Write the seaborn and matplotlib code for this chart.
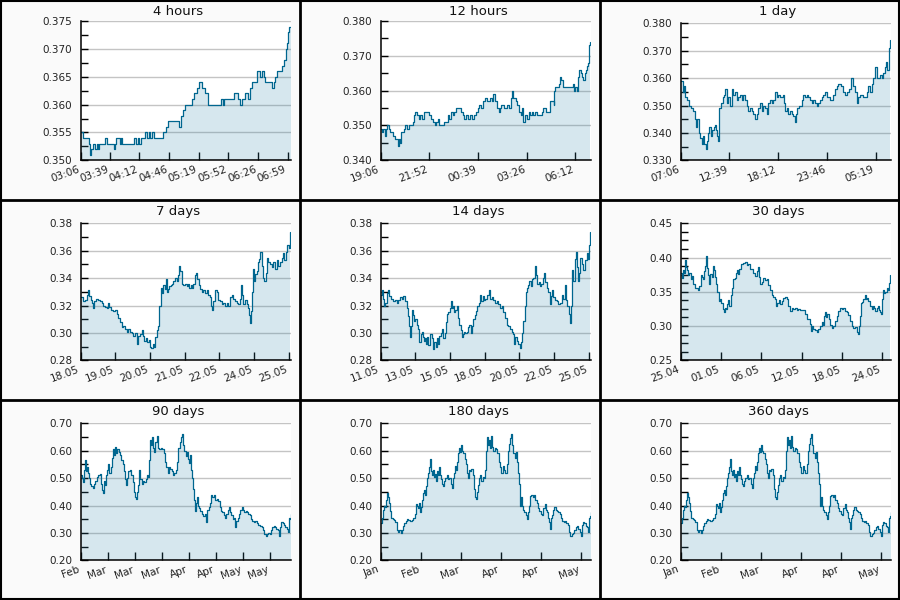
import matplotlib
matplotlib.use("Agg")
import matplotlib.pyplot as plt
from matplotlib.lines import Line2D
from matplotlib.ticker import FormatStrFormatter, MultipleLocator
import seaborn as sns

# ---------------- data ----------------
titles = ["4 hours", "12 hours", "1 day", "7 days", "14 days", "30 days",
          "90 days", "180 days", "360 days"]

# 4 hours (minutes since 03:06)
t_4h = [0, 3, 9, 10, 11, 12, 14, 16, 18, 19, 21, 27, 30, 37, 39, 40, 44, 45, 47, 60,
        62, 64, 66, 68, 73, 75, 77, 78, 80, 83, 93, 96, 98, 111, 113, 115, 117, 125, 128, 131,
        133, 137, 140, 143, 158, 160, 162, 173, 177, 180, 182, 185, 189, 191, 193, 199, 202, 204, 206, 208,
        216, 218, 219, 221, 227, 229, 231, 232, 234, 235, 237]
v_4h = [0.355, 0.354, 0.353, 0.352, 0.351, 0.352, 0.353, 0.352, 0.353, 0.352, 0.353, 0.354, 0.353, 0.352, 0.353, 0.354, 0.353, 0.354, 0.353, 0.354,
        0.353, 0.354, 0.353, 0.354, 0.355, 0.354, 0.355, 0.354, 0.355, 0.354, 0.355, 0.356, 0.357, 0.356, 0.358, 0.359, 0.360, 0.361, 0.362, 0.363,
        0.364, 0.363, 0.362, 0.360, 0.361, 0.360, 0.361, 0.362, 0.361, 0.360, 0.361, 0.362, 0.361, 0.363, 0.364, 0.366, 0.365, 0.366, 0.365, 0.364,
        0.363, 0.364, 0.365, 0.366, 0.367, 0.368, 0.370, 0.371, 0.373, 0.374, 0.374]
ticks_4h = [0, 33, 66, 100, 133, 166, 200, 233]
labels_4h = ["03:06", "03:39", "04:12", "04:46", "05:19", "05:52", "06:26", "06:59"]

# 12 hours (minutes since 19:06)
t_12h = [0, 5, 9, 14, 18, 23, 27, 32, 41, 48, 55, 58, 62, 66, 71, 75, 80, 84, 91, 96,
         103, 109, 114, 117, 123, 130, 135, 141, 148, 157, 164, 171, 178, 184, 189, 195, 201, 209, 217, 223,
         230, 235, 239, 246, 251, 258, 267, 274, 280, 285, 292, 299, 306, 312, 319, 326, 331, 337, 344, 351,
         358, 365, 372, 379, 383, 390, 397, 404, 408, 413, 420, 429, 433, 440, 446, 449, 454, 461, 467, 473,
         479, 483, 488, 493, 499, 506, 511, 518, 522, 529, 536, 545, 552, 556, 565, 575, 579, 585, 591, 594,
         597, 602, 609, 613, 618, 622, 629, 636, 643, 650, 657, 661, 666, 670, 675, 679, 684, 689, 693, 698,
         702, 707, 710, 713, 716]
v_12h = [0.349, 0.348, 0.349, 0.347, 0.349, 0.350, 0.349, 0.348, 0.347, 0.346, 0.346, 0.344, 0.346, 0.345, 0.348, 0.348, 0.349, 0.350, 0.349, 0.350,
         0.350, 0.351, 0.353, 0.354, 0.353, 0.352, 0.353, 0.352, 0.354, 0.354, 0.353, 0.352, 0.351, 0.350, 0.351, 0.352, 0.350, 0.350, 0.351, 0.351,
         0.353, 0.352, 0.354, 0.353, 0.354, 0.355, 0.355, 0.354, 0.353, 0.352, 0.353, 0.352, 0.353, 0.352, 0.353, 0.354, 0.355, 0.356, 0.355, 0.357,
         0.358, 0.357, 0.358, 0.357, 0.359, 0.357, 0.355, 0.354, 0.355, 0.356, 0.355, 0.355, 0.356, 0.355, 0.358, 0.360, 0.358, 0.357, 0.356, 0.354,
         0.353, 0.355, 0.351, 0.353, 0.352, 0.354, 0.353, 0.354, 0.353, 0.354, 0.353, 0.353, 0.354, 0.355, 0.354, 0.354, 0.357, 0.357, 0.356, 0.360,
         0.361, 0.361, 0.362, 0.364, 0.363, 0.361, 0.361, 0.361, 0.361, 0.361, 0.362, 0.360, 0.361, 0.360, 0.364, 0.366, 0.365, 0.364, 0.363, 0.365,
         0.366, 0.367, 0.368, 0.373, 0.374]
ticks_12h = [0, 166, 333, 500, 666]
labels_12h = ["19:06", "21:52", "00:39", "03:26", "06:12"]

# 1 day (minutes since 07:06)
t_1d = [0, 14, 23, 32, 41, 55, 68, 82, 96, 105, 114, 123, 132, 144, 153, 162, 173, 180, 189, 196,
        205, 217, 228, 235, 242, 251, 258, 265, 274, 287, 296, 306, 315, 326, 337, 349, 360, 372, 383, 394,
        406, 417, 429, 440, 451, 463, 474, 486, 497, 508, 520, 531, 543, 554, 565, 577, 588, 600, 611, 622,
        634, 645, 657, 668, 679, 698, 707, 716, 725, 736, 748, 759, 771, 782, 789, 798, 812, 828, 839, 850,
        862, 873, 885, 896, 907, 919, 930, 942, 953, 964, 976, 987, 999, 1021, 1044, 1056, 1067, 1078, 1094, 1108,
        1124, 1135, 1154, 1163, 1177, 1192, 1204, 1215, 1227, 1249, 1272, 1284, 1295, 1306, 1318, 1329, 1341, 1363, 1375, 1386,
        1398, 1405, 1414, 1423, 1427, 1434]
v_1d = [0.359, 0.355, 0.357, 0.353, 0.352, 0.350, 0.349, 0.348, 0.345, 0.342, 0.345, 0.340, 0.338, 0.336, 0.339, 0.336, 0.334, 0.337, 0.340, 0.342,
        0.339, 0.341, 0.342, 0.343, 0.341, 0.339, 0.337, 0.349, 0.351, 0.353, 0.354, 0.356, 0.351, 0.353, 0.350, 0.356, 0.354, 0.355, 0.352, 0.353,
        0.354, 0.352, 0.354, 0.352, 0.350, 0.348, 0.349, 0.348, 0.347, 0.345, 0.347, 0.349, 0.351, 0.348, 0.350, 0.349, 0.347, 0.351, 0.352, 0.351,
        0.352, 0.355, 0.353, 0.354, 0.353, 0.354, 0.351, 0.348, 0.349, 0.347, 0.348, 0.347, 0.346, 0.344, 0.347, 0.349, 0.350, 0.352, 0.354, 0.353,
        0.354, 0.353, 0.352, 0.351, 0.352, 0.351, 0.350, 0.351, 0.352, 0.353, 0.354, 0.355, 0.353, 0.352, 0.354, 0.356, 0.357, 0.358, 0.357, 0.355,
        0.354, 0.355, 0.356, 0.360, 0.357, 0.355, 0.351, 0.353, 0.354, 0.353, 0.355, 0.357, 0.355, 0.358, 0.360, 0.364, 0.360, 0.361, 0.360, 0.362,
        0.364, 0.366, 0.363, 0.366, 0.371, 0.374]
ticks_1d = [0, 333, 666, 1000, 1333]
labels_1d = ["07:06", "12:39", "18:12", "23:46", "05:19"]

# 7 days (hours since 18.05 07:06)
t_7d = [0, 1.6, 3.5, 4.8, 5.6, 6.9, 8.0, 9.1, 10.1, 10.9, 12.3, 14.1, 15.5, 16.8, 18.1, 19.5, 20.8, 22.1, 22.9, 24.3,
        26.1, 27.5, 28.8, 30.1, 31.5, 32.8, 34.1, 35.5, 36.8, 38.1, 39.5, 40.8, 42.1, 43.5, 44.8, 46.1, 47.5, 48.8, 49.6, 50.7,
        52.0, 53.1, 54.4, 55.5, 56.3, 57.6, 58.7, 59.7, 60.8, 61.9, 62.9, 64.0, 64.8, 66.1, 67.2, 68.0, 68.8, 69.9, 70.9, 72.0,
        73.3, 74.1, 75.5, 76.8, 77.6, 78.7, 79.5, 80.8, 82.1, 83.5, 84.8, 86.1, 86.9, 88.0, 89.1, 90.1, 91.5, 92.3, 93.3, 94.4,
        95.5, 96.8, 98.1, 99.5, 100.8, 102.1, 103.5, 104.3, 105.1, 106.1, 107.5, 108.8, 110.1, 111.5, 112.8, 114.1, 115.5, 116.8, 118.1, 119.5,
        120.8, 122.1, 123.5, 124.8, 126.1, 127.5, 128.3, 129.1, 130.1, 131.5, 132.8, 133.6, 134.4, 135.5, 136.3, 137.1, 137.6, 138.7, 139.7, 140.8,
        141.9, 142.9, 143.7, 144.8, 146.1, 146.9, 148.0, 148.8, 150.1, 151.5, 152.8, 154.1, 155.5, 156.8, 158.1, 159.5, 160.8, 162.1, 162.9, 164.3,
        165.3, 166.4, 167.2]
v_7d = [0.326, 0.323, 0.324, 0.328, 0.331, 0.327, 0.324, 0.322, 0.318, 0.323, 0.325, 0.324, 0.323, 0.322, 0.320, 0.319, 0.318, 0.322, 0.319, 0.317,
        0.316, 0.317, 0.314, 0.311, 0.308, 0.304, 0.305, 0.303, 0.301, 0.303, 0.301, 0.300, 0.298, 0.300, 0.292, 0.298, 0.299, 0.302, 0.298, 0.294,
        0.296, 0.293, 0.295, 0.290, 0.289, 0.292, 0.290, 0.297, 0.302, 0.305, 0.320, 0.333, 0.329, 0.335, 0.332, 0.339, 0.330, 0.332, 0.334, 0.335,
        0.336, 0.338, 0.340, 0.338, 0.342, 0.349, 0.345, 0.336, 0.335, 0.336, 0.334, 0.336, 0.333, 0.335, 0.333, 0.336, 0.342, 0.344, 0.339, 0.335,
        0.332, 0.330, 0.331, 0.329, 0.331, 0.328, 0.326, 0.320, 0.317, 0.323, 0.331, 0.330, 0.324, 0.323, 0.321, 0.322, 0.320, 0.322, 0.320, 0.326,
        0.328, 0.325, 0.323, 0.322, 0.321, 0.325, 0.335, 0.328, 0.321, 0.324, 0.321, 0.318, 0.313, 0.307, 0.316, 0.330, 0.347, 0.338, 0.343, 0.345,
        0.352, 0.354, 0.359, 0.349, 0.340, 0.338, 0.344, 0.355, 0.352, 0.350, 0.348, 0.352, 0.347, 0.353, 0.349, 0.352, 0.355, 0.358, 0.353, 0.359,
        0.364, 0.362, 0.374]
ticks_7d = [0, 27.7, 55.5, 83.2, 110.9, 138.7, 166.4]
labels_7d = ["18.05", "19.05", "20.05", "21.05", "22.05", "24.05", "25.05"]

# 14 days (hours since 11.05 07:06)
t_14d = [0, 1.6, 3.2, 5.3, 7.5, 9.6, 11.7, 13.9, 16.0, 19.2, 22.9, 25.6, 28.3, 30.9, 33.6, 36.3, 38.9, 41.6, 42.7, 44.3,
         45.9, 46.9, 48.5, 50.1, 52.3, 53.9, 55.5, 57.6, 59.2, 60.8, 61.9, 64.0, 65.6, 67.2, 69.3, 70.9, 72.5, 74.7, 76.3, 78.9,
         81.6, 84.3, 85.9, 88.0, 89.6, 91.7, 93.9, 96.0, 98.7, 100.3, 102.9, 104.5, 106.1, 108.3, 110.9, 112.0, 114.1, 116.3, 117.9, 119.5,
         121.6, 123.7, 125.9, 128.0, 129.6, 131.2, 133.3, 135.5, 137.6, 139.7, 141.9, 144.0, 146.1, 148.3, 150.4, 152.5, 154.7, 156.8, 158.9, 161.1,
         163.2, 165.3, 167.5, 169.6, 172.8, 174.9, 177.6, 180.3, 182.9, 185.6, 188.3, 190.9, 193.6, 196.3, 198.9, 201.6, 204.3, 206.9, 209.6, 212.3,
         213.9, 215.5, 217.6, 220.3, 222.9, 225.1, 226.7, 228.3, 230.4, 232.0, 233.6, 235.7, 237.9, 240.0, 242.1, 244.3, 246.4, 248.5, 250.7, 252.8,
         254.9, 257.1, 259.2, 260.8, 262.9, 265.6, 268.3, 270.4, 272.0, 274.1, 276.3, 278.9, 281.6, 284.3, 286.9, 289.6, 292.3, 294.9, 296.5, 298.7,
         300.8, 302.9, 305.1, 306.7, 308.3, 310.4, 312.0, 313.6, 315.2, 316.8, 318.9, 321.6, 324.3, 326.9, 329.6, 331.7, 333.3, 334.9]
v_14d = [0.328, 0.331, 0.325, 0.320, 0.322, 0.329, 0.331, 0.327, 0.325, 0.323, 0.324, 0.322, 0.324, 0.326, 0.325, 0.327, 0.323, 0.321, 0.318, 0.312,
         0.305, 0.297, 0.305, 0.317, 0.313, 0.309, 0.310, 0.306, 0.303, 0.299, 0.293, 0.299, 0.301, 0.297, 0.294, 0.296, 0.292, 0.297, 0.291, 0.299,
         0.296, 0.288, 0.293, 0.290, 0.296, 0.292, 0.298, 0.300, 0.303, 0.296, 0.300, 0.308, 0.314, 0.315, 0.318, 0.323, 0.318, 0.320, 0.315, 0.317,
         0.320, 0.311, 0.306, 0.302, 0.297, 0.299, 0.301, 0.300, 0.301, 0.304, 0.306, 0.300, 0.305, 0.310, 0.313, 0.316, 0.320, 0.322, 0.328, 0.323,
         0.327, 0.324, 0.325, 0.328, 0.331, 0.325, 0.326, 0.324, 0.322, 0.323, 0.321, 0.318, 0.320, 0.315, 0.311, 0.306, 0.305, 0.303, 0.301, 0.299,
         0.292, 0.297, 0.294, 0.292, 0.289, 0.293, 0.300, 0.309, 0.320, 0.330, 0.333, 0.335, 0.338, 0.334, 0.339, 0.340, 0.349, 0.342, 0.336, 0.337,
         0.334, 0.336, 0.340, 0.344, 0.337, 0.333, 0.330, 0.321, 0.327, 0.331, 0.326, 0.324, 0.323, 0.321, 0.322, 0.328, 0.325, 0.335, 0.324, 0.320,
         0.314, 0.307, 0.320, 0.346, 0.338, 0.354, 0.359, 0.348, 0.338, 0.344, 0.355, 0.350, 0.346, 0.353, 0.358, 0.354, 0.364, 0.374]
ticks_14d = [0, 55.5, 110.9, 166.4, 221.9, 277.3, 332.8]
labels_14d = ["11.05", "13.05", "15.05", "18.05", "20.05", "22.05", "25.05"]

# 30 days (hours since 25.04 07:06)
t_30d = [0, 3.4, 6.9, 11.4, 14.9, 18.3, 22.9, 26.3, 29.7, 34.3, 38.9, 43.4, 49.1, 54.9, 60.6, 64.0, 68.6, 72.0, 75.4, 80.0,
         83.4, 86.9, 90.3, 94.9, 98.3, 101.7, 106.3, 110.9, 114.3, 117.7, 121.1, 125.7, 130.3, 134.9, 139.4, 144.0, 147.4, 152.0, 155.4, 158.9,
         162.3, 166.9, 171.4, 176.0, 180.6, 185.1, 189.7, 194.3, 197.7, 201.2, 205.7, 212.6, 220.6, 226.3, 232.0, 237.7, 243.5, 249.2, 254.9, 260.6,
         265.2, 268.6, 273.2, 277.7, 283.5, 289.2, 294.9, 300.6, 306.3, 312.0, 317.8, 323.5, 326.9, 331.5, 336.0, 340.6, 346.3, 352.0, 357.8, 363.5,
         369.2, 374.9, 380.6, 386.3, 392.0, 397.8, 403.5, 409.2, 414.9, 420.6, 426.3, 432.0, 437.8, 443.5, 446.9, 451.5, 454.9, 460.6, 466.3, 472.1,
         477.8, 483.5, 486.9, 491.5, 494.9, 498.3, 502.9, 507.4, 512.0, 517.8, 523.5, 529.2, 534.9, 540.6, 546.3, 552.0, 557.8, 563.5, 569.2, 574.9,
         580.6, 586.3, 592.0, 597.8, 603.5, 606.9, 611.5, 614.9, 618.4, 622.9, 626.4, 630.9, 635.5, 640.1, 643.5, 649.2, 654.9, 658.4, 662.9, 667.5,
         672.1, 675.5, 678.9, 683.5, 686.9, 690.4, 693.8, 697.2, 701.8, 706.4, 711.0, 714.4, 717.8]
v_30d = [0.378, 0.370, 0.382, 0.378, 0.396, 0.386, 0.382, 0.374, 0.378, 0.369, 0.373, 0.362, 0.356, 0.355, 0.353, 0.358, 0.375, 0.372, 0.368, 0.380,
         0.388, 0.402, 0.385, 0.375, 0.362, 0.376, 0.372, 0.387, 0.382, 0.371, 0.362, 0.350, 0.337, 0.340, 0.334, 0.325, 0.321, 0.327, 0.325, 0.332,
         0.338, 0.330, 0.345, 0.355, 0.369, 0.370, 0.377, 0.382, 0.376, 0.384, 0.390, 0.392, 0.393, 0.389, 0.390, 0.383, 0.384, 0.378, 0.373, 0.381,
         0.386, 0.371, 0.362, 0.365, 0.370, 0.367, 0.368, 0.360, 0.352, 0.345, 0.342, 0.339, 0.330, 0.333, 0.338, 0.332, 0.337, 0.341, 0.343, 0.339,
         0.330, 0.322, 0.326, 0.325, 0.327, 0.323, 0.325, 0.323, 0.324, 0.324, 0.318, 0.310, 0.311, 0.303, 0.293, 0.300, 0.296, 0.294, 0.291, 0.295,
         0.300, 0.306, 0.302, 0.315, 0.320, 0.313, 0.318, 0.310, 0.302, 0.297, 0.300, 0.307, 0.315, 0.322, 0.327, 0.325, 0.326, 0.322, 0.320, 0.316,
         0.307, 0.300, 0.297, 0.299, 0.291, 0.289, 0.300, 0.315, 0.333, 0.335, 0.339, 0.345, 0.339, 0.341, 0.336, 0.330, 0.325, 0.330, 0.326, 0.322,
         0.326, 0.330, 0.323, 0.320, 0.318, 0.340, 0.352, 0.348, 0.350, 0.355, 0.353, 0.363, 0.374]
ticks_30d = [0, 138.2, 276.5, 414.7, 553.0, 691.2]
labels_30d = ["25.04", "01.05", "06.05", "12.05", "18.05", "24.05"]

# 90 days (days since start)
t_90d = [0, 0.4, 0.9, 1.3, 1.7, 2.1, 2.6, 3.0, 3.4, 4.0, 4.6, 5.1, 5.7, 6.3, 6.9, 7.6, 8.3, 8.7, 9.1, 9.6,
         10.0, 10.4, 10.9, 11.4, 11.9, 12.3, 12.9, 13.4, 14.0, 14.4, 14.9, 15.3, 15.7, 16.3, 16.9, 17.4, 18.0, 18.6, 19.1, 19.6,
         20.0, 20.4, 21.1, 21.7, 22.3, 22.7, 23.1, 23.6, 24.0, 24.4, 24.9, 25.1, 25.6, 26.1, 26.7, 27.3, 27.9, 28.4, 28.9, 29.3,
         29.7, 30.1, 30.6, 31.0, 31.4, 32.0, 32.6, 33.0, 33.6, 34.3, 35.0, 35.6, 36.1, 36.7, 37.3, 37.9, 38.4, 39.0, 39.6, 40.1,
         40.7, 41.3, 41.9, 42.4, 43.0, 43.6, 44.0, 44.4, 45.0, 45.4, 45.9, 46.3, 46.9, 47.3, 47.7, 48.1, 48.6, 48.9, 49.3, 49.7,
         50.1, 50.7, 51.3, 51.9, 52.6, 53.3, 53.7, 54.3, 54.9, 55.4, 55.9, 56.4, 57.0, 57.6, 58.3, 59.0, 59.6, 60.1, 60.7, 61.3,
         61.9, 62.4, 63.0, 63.4, 64.0, 64.6, 65.1, 65.7, 66.1, 66.7, 67.3, 67.9, 68.4, 69.0, 69.6, 70.1, 70.7, 71.3, 71.9, 72.4,
         73.0, 73.6, 74.1, 74.7, 75.4, 76.1, 76.9, 77.6, 78.1, 78.7, 79.3, 79.9, 80.4, 81.0, 81.6, 82.1, 82.7, 83.3, 83.9, 84.4,
         85.0, 85.6, 86.0, 86.6, 87.1, 87.7, 88.3, 88.7, 89.1, 89.6, 90.0]
v_90d = [0.510, 0.500, 0.485, 0.530, 0.565, 0.525, 0.540, 0.520, 0.500, 0.480, 0.470, 0.465, 0.478, 0.490, 0.505, 0.510, 0.515, 0.480, 0.455, 0.445,
         0.490, 0.475, 0.510, 0.530, 0.550, 0.520, 0.540, 0.575, 0.605, 0.585, 0.615, 0.590, 0.605, 0.595, 0.585, 0.565, 0.550, 0.525, 0.495, 0.475,
         0.500, 0.525, 0.530, 0.510, 0.485, 0.450, 0.430, 0.425, 0.450, 0.475, 0.505, 0.530, 0.495, 0.480, 0.490, 0.485, 0.495, 0.510, 0.505, 0.565,
         0.640, 0.620, 0.650, 0.610, 0.595, 0.630, 0.655, 0.610, 0.605, 0.610, 0.605, 0.590, 0.560, 0.540, 0.520, 0.540, 0.535, 0.525, 0.510, 0.520,
         0.530, 0.560, 0.610, 0.630, 0.650, 0.660, 0.620, 0.600, 0.580, 0.595, 0.570, 0.555, 0.585, 0.530, 0.500, 0.460, 0.420, 0.380, 0.410, 0.430,
         0.400, 0.390, 0.380, 0.370, 0.360, 0.370, 0.340, 0.385, 0.395, 0.410, 0.440, 0.430, 0.440, 0.420, 0.425, 0.415, 0.395, 0.380, 0.375, 0.365,
         0.355, 0.370, 0.385, 0.395, 0.375, 0.365, 0.350, 0.355, 0.320, 0.345, 0.355, 0.370, 0.385, 0.395, 0.385, 0.375, 0.380, 0.375, 0.370, 0.365,
         0.350, 0.345, 0.340, 0.345, 0.335, 0.330, 0.325, 0.322, 0.310, 0.295, 0.290, 0.295, 0.300, 0.295, 0.310, 0.320, 0.325, 0.322, 0.315, 0.310,
         0.290, 0.320, 0.340, 0.335, 0.330, 0.320, 0.315, 0.305, 0.355, 0.350, 0.370]
ticks_90d = [0, 11.57, 23.14, 34.71, 46.29, 57.86, 69.43, 81.0]
labels_90d = ["Feb", "Mar", "Mar", "Mar", "Apr", "Apr", "May", "May"]

# 180 / 360 days (days since start; history begins in January)
t_180d = [0, 0.75, 1.5, 2.25, 3, 3.75, 4.5, 5.25, 6, 7, 8, 9, 10, 11, 12, 13, 14, 15, 15.75, 16.75,
          17.75, 18.75, 19.75, 20.75, 22, 23.25, 24.5, 25.5, 26.25, 27, 27.75, 28.5, 29.25, 30, 30.75, 31.5, 32.25, 33, 33.75, 34.5,
          35.25, 36, 36.75, 37.5, 38.25, 39, 40, 40.75, 41.5, 42.25, 43, 43.75, 44.5, 45.25, 46, 46.75, 47.5, 48.5, 49.5, 50.5,
          51.5, 52.5, 53.25, 54, 55, 55.75, 56.5, 57.5, 58.25, 59, 59.75, 60.5, 61.25, 62, 63, 63.75, 64.5, 65.25, 66, 67,
          68, 69, 70, 70.75, 71.5, 72.5, 73.25, 74, 74.75, 75.5, 76.5, 77.5, 78.5, 79.25, 80, 80.75, 81.5, 82.25, 83, 83.75,
          84.5, 85.5, 86.5, 87.5, 88.5, 89.5, 90.5, 91.5, 92.5, 93.5, 94.5, 95.25, 96.25, 97, 97.75, 98.5, 99.5, 100.5, 101.25, 102,
          102.75, 103.5, 104.25, 105, 105.75, 106.75, 107.75, 108.75, 109.75, 110.5, 111.5, 112.25, 113, 114, 115, 116, 117, 118, 119, 120,
          121, 122, 123, 123.75, 124.5, 125.25, 126, 126.75, 127.5, 128.5, 129.5, 130.25, 131.25, 132.25, 133.25, 134.25, 135.25, 136.25, 137.25, 138.25,
          139.25, 140.25, 141.25, 142.25, 143.25, 144.25, 145.25, 146.25, 147.25, 148.25, 149.25, 150.25, 151, 151.75, 152.75, 153.75, 154.75, 155.5, 156.25, 157,
          157.5]
v_180d = [0.335, 0.355, 0.385, 0.400, 0.395, 0.420, 0.445, 0.430, 0.410, 0.380, 0.355, 0.350, 0.348, 0.340, 0.310, 0.305, 0.310, 0.300, 0.310, 0.325,
          0.335, 0.345, 0.350, 0.347, 0.345, 0.348, 0.355, 0.370, 0.405, 0.400, 0.390, 0.410, 0.375, 0.395, 0.420, 0.445, 0.455, 0.440, 0.470, 0.500,
          0.520, 0.540, 0.570, 0.525, 0.510, 0.530, 0.505, 0.515, 0.490, 0.525, 0.510, 0.540, 0.510, 0.495, 0.480, 0.470, 0.490, 0.500, 0.510, 0.495,
          0.500, 0.480, 0.465, 0.500, 0.520, 0.545, 0.530, 0.560, 0.590, 0.610, 0.595, 0.620, 0.600, 0.590, 0.570, 0.550, 0.520, 0.500, 0.530, 0.525,
          0.535, 0.510, 0.460, 0.430, 0.425, 0.450, 0.475, 0.500, 0.510, 0.490, 0.505, 0.500, 0.530, 0.600, 0.650, 0.620, 0.640, 0.610, 0.655, 0.615,
          0.600, 0.610, 0.605, 0.590, 0.560, 0.540, 0.520, 0.545, 0.530, 0.520, 0.550, 0.600, 0.625, 0.645, 0.660, 0.620, 0.590, 0.575, 0.595, 0.560,
          0.520, 0.480, 0.400, 0.430, 0.400, 0.385, 0.375, 0.365, 0.350, 0.375, 0.400, 0.435, 0.440, 0.430, 0.440, 0.420, 0.410, 0.390, 0.380, 0.370,
          0.365, 0.390, 0.405, 0.385, 0.375, 0.355, 0.340, 0.315, 0.355, 0.365, 0.385, 0.395, 0.385, 0.380, 0.375, 0.370, 0.355, 0.345, 0.340, 0.345,
          0.335, 0.330, 0.305, 0.290, 0.295, 0.300, 0.310, 0.320, 0.325, 0.315, 0.305, 0.290, 0.330, 0.340, 0.335, 0.325, 0.320, 0.305, 0.355, 0.360,
          0.375]
ticks_180d = [0, 30, 60, 90, 120, 150]
labels_180d = ["Jan", "Feb", "Mar", "Apr", "Apr", "May"]

# ---------------- style ----------------
LINE = "#00668f"
FILL = "#3287aa"
GRID = "#c4c4c4"
CELL_BG = "#fafafa"

sns.set_style("white")
plt.rcParams["font.family"] = ["DejaVu Sans"]

panels = [
    (t_4h, v_4h, ticks_4h, labels_4h, (0.350, 0.375), 0.005, 0.0025, "%.3f", 236.6),
    (t_12h, v_12h, ticks_12h, labels_12h, (0.340, 0.380), 0.010, 0.005, "%.3f", 718),
    (t_1d, v_1d, ticks_1d, labels_1d, (0.330, 0.380), 0.010, 0.005, "%.3f", 1436),
    (t_7d, v_7d, ticks_7d, labels_7d, (0.28, 0.38), 0.02, 0.01, "%.2f", 168),
    (t_14d, v_14d, ticks_14d, labels_14d, (0.28, 0.38), 0.02, 0.01, "%.2f", 336),
    (t_30d, v_30d, ticks_30d, labels_30d, (0.25, 0.45), 0.05, 0.0125, "%.2f", 720),
    (t_90d, v_90d, ticks_90d, labels_90d, (0.20, 0.70), 0.10, 0.05, "%.2f", 90),
    (t_180d, v_180d, ticks_180d, labels_180d, (0.20, 0.70), 0.10, 0.05, "%.2f", 157.5),
    (t_180d, v_180d, ticks_180d, labels_180d, (0.20, 0.70), 0.10, 0.05, "%.2f", 157.5),
]

W, H = 900, 600
fig = plt.figure(figsize=(9, 6), dpi=100, facecolor=CELL_BG)

for i, (t, v, xt, xl, ylim, major, minor, fmt, xmax) in enumerate(panels):
    r, c = divmod(i, 3)
    x0, y0 = c * 300, r * 200
    top_px = y0 + (21 if i < 2 else 23.3)
    bot_px = y0 + 160.3
    ax = fig.add_axes([(x0 + 80.7) / W, 1 - bot_px / H, 210 / W, (bot_px - top_px) / H])
    ax.set_facecolor("white")

    ax.fill_between(t, v, ylim[0], step="post", color=FILL, alpha=0.2, lw=0, zorder=1)
    sns.lineplot(x=t, y=v, ax=ax, drawstyle="steps-post", color=LINE, linewidth=0.9,
                 estimator=None, sort=False, zorder=2)

    ax.set_xlim(0, xmax)
    ax.set_ylim(*ylim)
    ax.yaxis.set_major_locator(MultipleLocator(major))
    ax.yaxis.set_minor_locator(MultipleLocator(minor))
    ax.yaxis.set_major_formatter(FormatStrFormatter(fmt))
    ax.set_xticks(xt)
    ax.set_xticklabels(xl, rotation=20, ha="right")
    ax.set_xlabel("")
    ax.set_ylabel("")

    ax.set_axisbelow(True)
    ax.yaxis.grid(True, which="major", color=GRID, lw=1)
    ax.xaxis.grid(False)

    for s in ("top", "right"):
        ax.spines[s].set_visible(False)
    for s in ("left", "bottom"):
        ax.spines[s].set_color("black")
        ax.spines[s].set_linewidth(1.1)

    ax.tick_params(axis="y", which="both", direction="in", length=5, width=1,
                   color="black", labelsize=7.5, labelcolor="#222222", pad=6, left=True)
    ax.tick_params(axis="x", which="both", direction="in", length=6, width=1,
                   color="black", labelsize=7.5, labelcolor="#222222", pad=3, bottom=True)

    fig.text((x0 + 178) / W, 1 - (y0 + 15) / H, titles[i], ha="center", va="baseline",
             fontsize=9.5, color="#111111")

# cell borders
for xp, lw in ((1, 1.5), (300, 2.0), (600, 2.0), (899, 1.5)):
    fig.add_artist(Line2D([xp / W, xp / W], [0, 1], transform=fig.transFigure,
                          color="black", lw=lw))
for yp, lw in ((1, 1.5), (200, 2.0), (400, 2.0), (599, 1.5)):
    fig.add_artist(Line2D([0, 1], [1 - yp / H, 1 - yp / H], transform=fig.transFigure,
                          color="black", lw=lw))

fig.savefig("out.png", dpi=100, facecolor=CELL_BG)
